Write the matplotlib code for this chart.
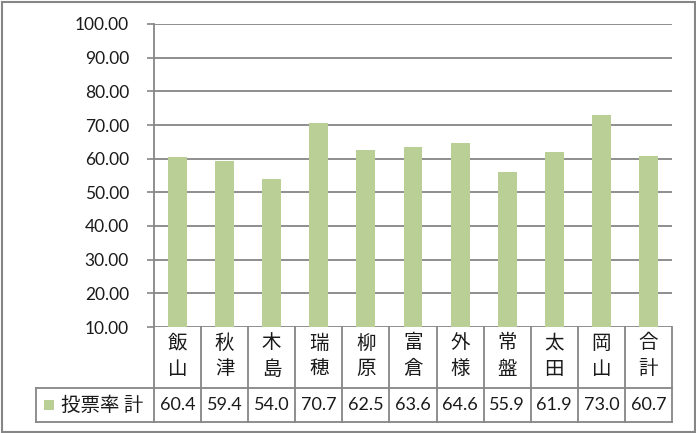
import matplotlib.pyplot as plt
from matplotlib.patches import Rectangle
from matplotlib.lines import Line2D

plt.rcParams['font.family'] = ['Lato', 'Noto Sans CJK JP', 'DejaVu Sans']

# data
categories = ['飯山', '秋津', '木島', '瑞穂', '柳原', '富倉', '外様', '常盤', '太田', '岡山', '合計']
turnout = [60.4, 59.4, 54.0, 70.7, 62.5, 63.6, 64.6, 55.9, 61.9, 73.0, 60.7]
series_name = '投票率 計'
y_ticks = [10, 20, 30, 40, 50, 60, 70, 80, 90, 100]

W, H = 696, 433
grey = '#868686'
green = '#B9CF96'
ink = '#1a1a1a'

fig = plt.figure(figsize=(W / 100, H / 100), dpi=100)
ax = fig.add_axes([154 / W, 1 - 327 / H, (672 - 154) / W, (327 - 24) / H])

x = list(range(len(categories)))
ax.bar(x, turnout, width=0.4, color=green, zorder=3)
ax.set_xlim(-0.5, len(categories) - 0.5)
ax.set_ylim(10, 100)
ax.set_yticks(y_ticks)
ax.set_yticklabels([f'{v:.2f}' for v in y_ticks], fontsize=12.5, color=ink)
ax.tick_params(axis='y', length=5, width=1.2, color=grey, pad=13)
ax.set_xticks([])
ax.grid(axis='y', color=grey, lw=1.3, zorder=1)
for s in ['top', 'right', 'bottom']:
    ax.spines[s].set_visible(False)
ax.spines['left'].set_color(grey)
ax.spines['left'].set_linewidth(1.3)
ax.spines['left'].set_zorder(4)

# data table below the plot (axes-fraction y)
ah = 327 - 24
row1 = -(388 - 327) / ah
row2 = -(422 - 327) / ah
left_ax = (36 - 154) / (672 - 154)
lk = dict(color=grey, lw=1.3, clip_on=False, zorder=5)
tx = ax.get_xaxis_transform()
for i in range(len(categories) + 1):
    ax.add_line(Line2D([i - 0.5, i - 0.5], [0, row2], transform=tx, **lk))
ax.add_line(Line2D([left_ax, 1], [row1, row1], transform=ax.transAxes, **lk))
ax.add_line(Line2D([left_ax, 1], [row2, row2], transform=ax.transAxes, **lk))
ax.add_line(Line2D([left_ax, left_ax], [row1, row2], transform=ax.transAxes, **lk))

for i, (name, v) in enumerate(zip(categories, turnout)):
    ax.text(i, -(343 - 327) / ah, name[0], transform=tx, ha='center', va='center',
            fontsize=14, family=['Noto Sans CJK JP'], color=ink)
    ax.text(i, -(369 - 327) / ah, name[1], transform=tx, ha='center', va='center',
            fontsize=14, family=['Noto Sans CJK JP'], color=ink)
    ax.text(i, -(405 - 327) / ah, f'{v:.1f}', transform=tx, ha='center', va='center',
            fontsize=13, color=ink)

# legend key in the table
fig.add_artist(Rectangle((44 / W, 1 - 410 / H), 10 / W, 10 / H, facecolor=green,
                         edgecolor='none'))
fig.text(61 / W, 1 - 405 / H, series_name, ha='left', va='center', fontsize=14,
         family=['Noto Sans CJK JP'], color=ink)

# outer frame
fig.add_artist(Rectangle((1.5 / W, 1.5 / H), (W - 3) / W, (H - 3) / H, fill=False,
                         edgecolor=grey, lw=1.5))

fig.savefig('out.png', dpi=100)
